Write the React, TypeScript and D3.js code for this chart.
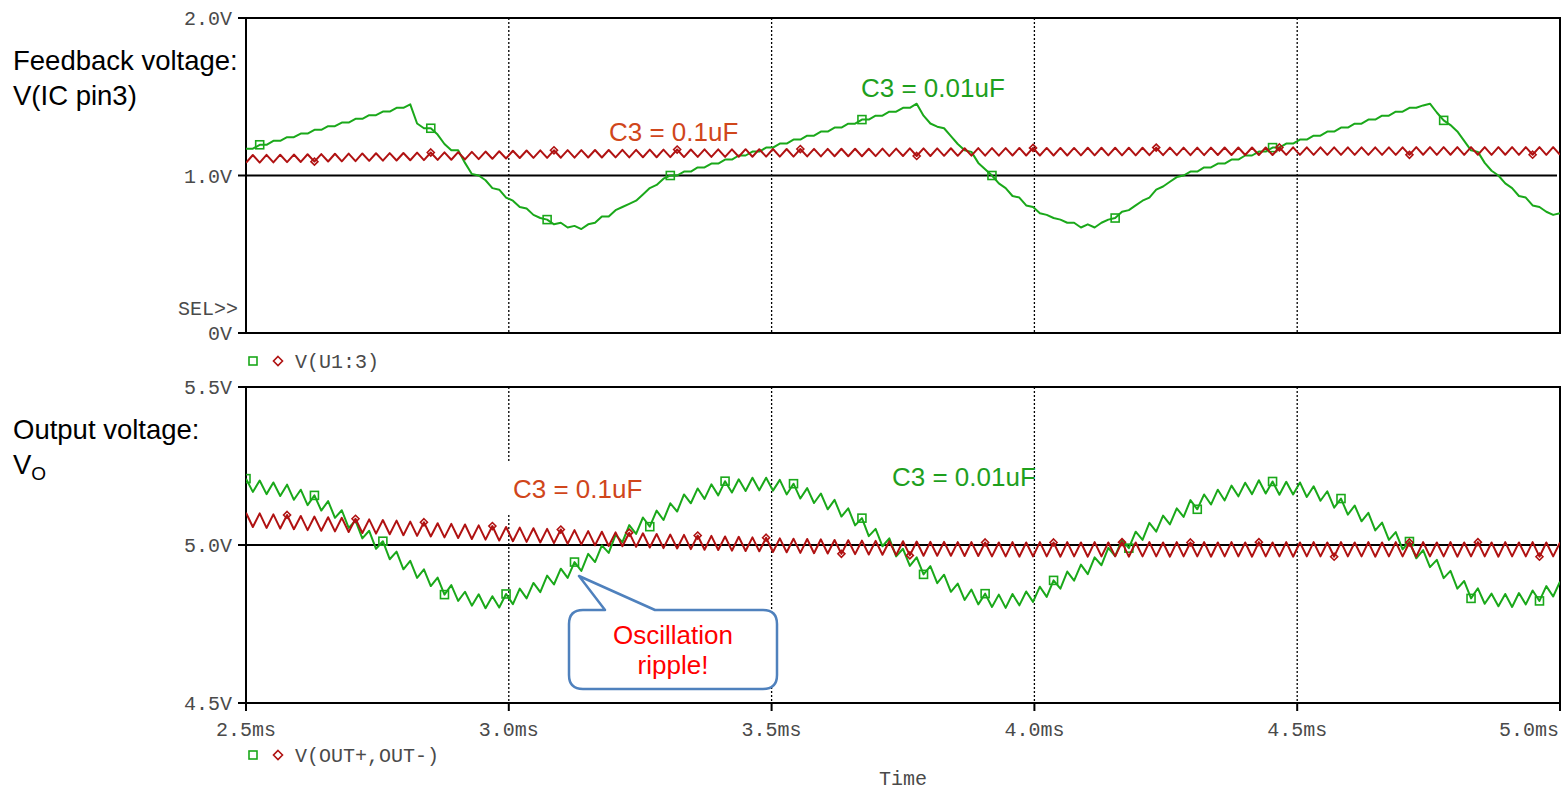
import React from "react";
import * as d3 from "d3";

// ---------- DATA ----------
const T_START = 2.5; // ms
const T_END = 5.0; // ms

const timeTicks = [2.5, 3.0, 3.5, 4.0, 4.5, 5.0];
const timeTickLabels = ["2.5ms", "3.0ms", "3.5ms", "4.0ms", "4.5ms", "5.0ms"];
const gridTimes = [3.0, 3.5, 4.0, 4.5];

const fbTicks = [0, 1.0, 2.0];
const fbTickLabels = ["0V", "1.0V", "2.0V"];
const outTicks = [4.5, 5.0, 5.5];
const outTickLabels = ["4.5V", "5.0V", "5.5V"];

// V(U1:3), C3 = 0.01uF (green), sampled every half switching period
const fbGreen = [
  1.170, 1.170, 1.195, 1.195, 1.220, 1.220, 1.243, 1.243, 1.266, 1.266,
  1.290, 1.290, 1.313, 1.313, 1.336, 1.336, 1.360, 1.360, 1.383, 1.383,
  1.406, 1.406, 1.430, 1.430, 1.452, 1.330, 1.300, 1.300, 1.260, 1.200,
  1.160, 1.160, 1.080, 1.010, 1.000, 0.970, 0.920, 0.910, 0.860, 0.840,
  0.800, 0.790, 0.750, 0.730, 0.720, 0.690, 0.700, 0.670, 0.680, 0.660,
  0.690, 0.700, 0.740, 0.740, 0.780, 0.800, 0.820, 0.840, 0.880, 0.920,
  0.940, 0.980, 1.000, 1.000, 1.025, 1.025, 1.051, 1.051, 1.076, 1.076,
  1.101, 1.101, 1.127, 1.127, 1.152, 1.152, 1.177, 1.177, 1.203, 1.203,
  1.228, 1.228, 1.253, 1.253, 1.279, 1.279, 1.304, 1.304, 1.329, 1.329,
  1.355, 1.355, 1.380, 1.380, 1.405, 1.405, 1.430, 1.430, 1.456, 1.380,
  1.330, 1.310, 1.300, 1.250, 1.200, 1.160, 1.150, 1.080, 1.040, 1.000,
  0.950, 0.920, 0.870, 0.860, 0.810, 0.800, 0.760, 0.750, 0.730, 0.720,
  0.700, 0.700, 0.670, 0.690, 0.670, 0.700, 0.720, 0.730, 0.770, 0.780,
  0.810, 0.840, 0.860, 0.910, 0.930, 0.960, 0.990, 1.000, 1.025, 1.025,
  1.051, 1.051, 1.076, 1.076, 1.101, 1.101, 1.127, 1.127, 1.152, 1.152,
  1.177, 1.177, 1.203, 1.203, 1.228, 1.228, 1.253, 1.253, 1.279, 1.279,
  1.304, 1.304, 1.329, 1.329, 1.355, 1.355, 1.380, 1.380, 1.405, 1.405,
  1.430, 1.430, 1.445, 1.456, 1.400, 1.350, 1.320, 1.280, 1.220, 1.160,
  1.150, 1.080, 1.030, 1.000, 0.950, 0.920, 0.870, 0.860, 0.810, 0.800,
  0.770, 0.750, 0.760,
];

// V(U1:3), C3 = 0.1uF (red)
const fbRed = [
  1.081, 1.130, 1.082, 1.131, 1.083, 1.132, 1.085, 1.133, 1.086, 1.135,
  1.088, 1.136, 1.089, 1.138, 1.090, 1.139, 1.091, 1.140, 1.093, 1.141,
  1.094, 1.142, 1.095, 1.143, 1.097, 1.145, 1.098, 1.146, 1.099, 1.147,
  1.100, 1.148, 1.102, 1.150, 1.104, 1.152, 1.106, 1.154, 1.108, 1.157,
  1.111, 1.159, 1.112, 1.160, 1.112, 1.160, 1.113, 1.161, 1.113, 1.161,
  1.114, 1.162, 1.114, 1.162, 1.115, 1.163, 1.115, 1.163, 1.116, 1.164,
  1.116, 1.164, 1.117, 1.165, 1.117, 1.165, 1.118, 1.166, 1.118, 1.166,
  1.118, 1.166, 1.119, 1.167, 1.119, 1.167, 1.120, 1.168, 1.120, 1.168,
  1.120, 1.168, 1.121, 1.169, 1.121, 1.169, 1.122, 1.170, 1.122, 1.170,
  1.122, 1.170, 1.123, 1.171, 1.123, 1.171, 1.124, 1.172, 1.124, 1.172,
  1.124, 1.172, 1.125, 1.173, 1.125, 1.173, 1.126, 1.174, 1.126, 1.174,
  1.126, 1.174, 1.127, 1.175, 1.127, 1.175, 1.127, 1.175, 1.127, 1.175,
  1.127, 1.175, 1.128, 1.176, 1.128, 1.176, 1.128, 1.176, 1.128, 1.176,
  1.128, 1.176, 1.129, 1.177, 1.129, 1.177, 1.129, 1.177, 1.129, 1.177,
  1.129, 1.177, 1.130, 1.178, 1.130, 1.178, 1.130, 1.178, 1.130, 1.178,
  1.130, 1.178, 1.131, 1.179, 1.131, 1.179, 1.131, 1.179, 1.131, 1.179,
  1.131, 1.179, 1.131, 1.179, 1.131, 1.179, 1.131, 1.179, 1.131, 1.179,
  1.131, 1.180, 1.132, 1.180, 1.131, 1.180, 1.132, 1.180, 1.131, 1.180,
  1.132, 1.180, 1.131, 1.180, 1.132, 1.180, 1.131, 1.180, 1.132, 1.180,
  1.131, 1.180, 1.132,
];

// V(OUT+,OUT-), C3 = 0.01uF (green)
const outGreen = [
  5.210, 5.168, 5.204, 5.161, 5.198, 5.155, 5.191, 5.143, 5.175, 5.126,
  5.157, 5.109, 5.139, 5.086, 5.110, 5.054, 5.077, 5.021, 5.045, 4.988,
  5.012, 4.955, 4.979, 4.923, 4.950, 4.896, 4.923, 4.870, 4.897, 4.843,
  4.873, 4.823, 4.852, 4.808, 4.844, 4.800, 4.838, 4.802, 4.845, 4.813,
  4.862, 4.831, 4.880, 4.851, 4.903, 4.875, 4.925, 4.896, 4.946, 4.918,
  4.972, 4.946, 4.999, 4.975, 5.032, 5.009, 5.063, 5.035, 5.087, 5.058,
  5.109, 5.079, 5.132, 5.106, 5.160, 5.132, 5.179, 5.146, 5.192, 5.157,
  5.202, 5.166, 5.208, 5.171, 5.213, 5.173, 5.213, 5.172, 5.206, 5.160,
  5.194, 5.147, 5.180, 5.133, 5.163, 5.113, 5.143, 5.090, 5.116, 5.062,
  5.085, 5.028, 5.051, 4.996, 5.021, 4.964, 4.988, 4.934, 4.961, 4.907,
  4.933, 4.879, 4.906, 4.852, 4.878, 4.826, 4.859, 4.812, 4.846, 4.804,
  4.843, 4.801, 4.845, 4.809, 4.853, 4.820, 4.868, 4.836, 4.888, 4.862,
  4.916, 4.887, 4.938, 4.908, 4.961, 4.936, 4.991, 4.965, 5.017, 4.990,
  5.042, 5.016, 5.070, 5.042, 5.093, 5.065, 5.116, 5.089, 5.142, 5.113,
  5.160, 5.128, 5.175, 5.141, 5.188, 5.154, 5.197, 5.161, 5.205, 5.163,
  5.201, 5.159, 5.200, 5.160, 5.198, 5.152, 5.186, 5.140, 5.170, 5.118,
  5.147, 5.096, 5.125, 5.075, 5.102, 5.046, 5.071, 5.016, 5.041, 4.986,
  5.011, 4.958, 4.984, 4.930, 4.953, 4.895, 4.918, 4.862, 4.886, 4.831,
  4.863, 4.814, 4.846, 4.806, 4.845, 4.804, 4.848, 4.812, 4.856, 4.823,
  4.870, 4.837, 4.884,
];

// V(OUT+,OUT-), C3 = 0.1uF (red)
const outRed = [
  5.102, 5.057, 5.100, 5.054, 5.097, 5.052, 5.095, 5.050, 5.092, 5.047,
  5.090, 5.045, 5.088, 5.043, 5.086, 5.041, 5.083, 5.038, 5.081, 5.036,
  5.079, 5.034, 5.077, 5.031, 5.074, 5.029, 5.072, 5.027, 5.069, 5.024,
  5.067, 5.022, 5.065, 5.019, 5.062, 5.017, 5.060, 5.014, 5.057, 5.012,
  5.055, 5.010, 5.053, 5.008, 5.051, 5.006, 5.049, 5.004, 5.047, 5.002,
  5.044, 4.999, 5.042, 4.997, 5.040, 4.996, 5.039, 4.994, 5.037, 4.992,
  5.035, 4.990, 5.033, 4.989, 5.032, 4.987, 5.030, 4.985, 5.029, 4.984,
  5.027, 4.982, 5.026, 4.981, 5.024, 4.980, 5.023, 4.978, 5.021, 4.977,
  5.020, 4.975, 5.019, 4.974, 5.018, 4.973, 5.016, 4.972, 5.015, 4.971,
  5.014, 4.970, 5.013, 4.969, 5.012, 4.968, 5.012, 4.967, 5.011, 4.966,
  5.010, 4.966, 5.010, 4.966, 5.009, 4.965, 5.009, 4.965, 5.008, 4.964,
  5.008, 4.964, 5.009, 4.963, 5.008, 4.964, 5.009, 4.964, 5.008, 4.963,
  5.009, 4.964, 5.008, 4.963, 5.009, 4.964, 5.008, 4.964, 5.009, 4.963,
  5.008, 4.964, 5.009, 4.964, 5.008, 4.963, 5.009, 4.964, 5.008, 4.964,
  5.009, 4.963, 5.008, 4.964, 5.009, 4.964, 5.008, 4.963, 5.009, 4.964,
  5.008, 4.964, 5.009, 4.963, 5.008, 4.964, 5.009, 4.964, 5.008, 4.963,
  5.009, 4.964, 5.008, 4.964, 5.009, 4.963, 5.008, 4.964, 5.009, 4.964,
  5.008, 4.963, 5.009, 4.964, 5.008, 4.964, 5.009, 4.963, 5.008, 4.964,
  5.009, 4.964, 5.008, 4.963, 5.009, 4.964, 5.008, 4.964, 5.009, 4.963,
  5.008, 4.964, 5.008,
];

// sample indices where the simulator drew its trace markers
const fbGreenMarks = [2, 27, 44, 62, 90, 109, 127, 150, 175];
const fbRedMarks = [10, 27, 45, 63, 81, 98, 115, 133, 151, 170, 188];
const outGreenMarks = [0, 10, 20, 29, 38, 48, 59, 70, 80, 90, 99, 108, 118, 129, 139, 150, 160, 170, 179, 189];
const outRedMarks = [6, 16, 26, 36, 46, 56, 66, 76, 87, 97, 108, 118, 128, 138, 148, 159, 170, 180, 189];

// ---------- STYLE / LAYOUT ----------
const W = 1562;
const H = 791;
const PL = 246;
const PR = 1560;
const TOP_Y0 = 18;
const TOP_Y1 = 333;
const BOT_Y0 = 387;
const BOT_Y1 = 703;
const GREEN = "#1aa81a";
const RED = "#b01212";
const MONO = "'Liberation Mono', 'DejaVu Sans Mono', monospace";
const SANS = "'Liberation Sans', Arial, sans-serif";
const AXIS_TEXT = "#4a4a4a";

const x = d3.scaleLinear().domain([T_START, T_END]).range([PL, PR]);
const yTop = d3.scaleLinear().domain([0, 2]).range([TOP_Y1, TOP_Y0]);
const yBot = d3.scaleLinear().domain([4.5, 5.5]).range([BOT_Y1, BOT_Y0]);

function tOf(i: number, n: number) {
  return T_START + (i * (T_END - T_START)) / (n - 1);
}

function tracePath(vals: number[], y: d3.ScaleLinear<number, number>) {
  const gen = d3
    .line<number>()
    .x((_, i) => x(tOf(i, vals.length)))
    .y((v) => y(v));
  return gen(vals) || "";
}

function Square({ cx, cy, color }: { cx: number; cy: number; color: string }) {
  return (
    <rect x={cx - 4} y={cy - 4} width={8} height={8} fill="none" stroke={color} strokeWidth={1.6} />
  );
}
function Diamond({ cx, cy, color, r = 4.5 }: { cx: number; cy: number; color: string; r?: number }) {
  return (
    <path
      d={`M${cx},${cy - r} L${cx + r},${cy} L${cx},${cy + r} L${cx - r},${cy} Z`}
      fill="none"
      stroke={color}
      strokeWidth={1.6}
    />
  );
}

function Panel({
  y,
  ticks,
  labels,
  refLevel,
  y0,
  y1,
  xTicks,
}: {
  y: d3.ScaleLinear<number, number>;
  ticks: number[];
  labels: string[];
  refLevel: number;
  y0: number;
  y1: number;
  xTicks: boolean;
}) {
  return (
    <g>
      {gridTimes.map((t) => (
        <line
          key={"g" + t}
          x1={x(t)}
          x2={x(t)}
          y1={y0}
          y2={y1}
          stroke="#000"
          strokeWidth={1.3}
          strokeDasharray="2,2"
        />
      ))}
      <line x1={PL} x2={PR - 3} y1={y(refLevel)} y2={y(refLevel)} stroke="#000" strokeWidth={2} />
      <rect x={PL} y={y0} width={PR - PL} height={y1 - y0} fill="none" stroke="#000" strokeWidth={2} />
      {ticks.map((v, i) => (
        <g key={"t" + v}>
          <line x1={PL - 8} x2={PL} y1={y(v)} y2={y(v)} stroke="#000" strokeWidth={2} />
          <text
            x={232}
            y={y(v) + 7}
            textAnchor="end"
            fontFamily={MONO}
            fontSize={20}
            fill={AXIS_TEXT}
          >
            {labels[i]}
          </text>
        </g>
      ))}
      {xTicks &&
        timeTicks.map((t) => (
          <line key={"xt" + t} x1={x(t)} x2={x(t)} y1={y1} y2={y1 + 8} stroke="#000" strokeWidth={2} />
        ))}
    </g>
  );
}

export default function App() {
  return (
    <svg
      width={W}
      height={H}
      style={{ position: "absolute", left: 0, top: 0, background: "#fff" }}
      xmlns="http://www.w3.org/2000/svg"
    >
      <rect x={0} y={0} width={W} height={H} fill="#fff" />

      {/* top panel */}
      <Panel y={yTop} ticks={fbTicks} labels={fbTickLabels} refLevel={1.0} y0={TOP_Y0} y1={TOP_Y1} xTicks={false} />
      <defs>
        <clipPath id="clipTop">
          <rect x={PL} y={TOP_Y0} width={PR - PL} height={TOP_Y1 - TOP_Y0} />
        </clipPath>
        <clipPath id="clipBot">
          <rect x={PL} y={BOT_Y0} width={PR - PL} height={BOT_Y1 - BOT_Y0} />
        </clipPath>
      </defs>
      <g clipPath="url(#clipTop)">
        <path d={tracePath(fbGreen, yTop)} fill="none" stroke={GREEN} strokeWidth={2} strokeLinejoin="round" />
        {fbGreenMarks.map((i) => (
          <Square key={"fg" + i} cx={x(tOf(i, fbGreen.length))} cy={yTop(fbGreen[i])} color={GREEN} />
        ))}
        <path d={tracePath(fbRed, yTop)} fill="none" stroke={RED} strokeWidth={2} strokeLinejoin="round" />
        {fbRedMarks.map((i) => (
          <Diamond key={"fr" + i} cx={x(tOf(i, fbRed.length))} cy={yTop(fbRed[i])} color={RED} r={3.5} />
        ))}
      </g>
      <text x={238} y={315} textAnchor="end" fontFamily={MONO} fontSize={20} fill={AXIS_TEXT}>
        SEL&gt;&gt;
      </text>

      {/* legend 1 */}
      <Square cx={253} cy={361} color={GREEN} />
      <Diamond cx={278} cy={361} color={RED} />
      <text x={295} y={368} fontFamily={MONO} fontSize={20} fill={AXIS_TEXT}>
        V(U1:3)
      </text>

      {/* bottom panel */}
      <Panel y={yBot} ticks={outTicks} labels={outTickLabels} refLevel={5.0} y0={BOT_Y0} y1={BOT_Y1} xTicks={true} />
      <g clipPath="url(#clipBot)">
        <path d={tracePath(outGreen, yBot)} fill="none" stroke={GREEN} strokeWidth={2} strokeLinejoin="round" />
        {outGreenMarks.map((i) => (
          <Square key={"og" + i} cx={x(tOf(i, outGreen.length))} cy={yBot(outGreen[i])} color={GREEN} />
        ))}
        <path d={tracePath(outRed, yBot)} fill="none" stroke={RED} strokeWidth={2} strokeLinejoin="round" />
        {outRedMarks.map((i) => (
          <Diamond key={"or" + i} cx={x(tOf(i, outRed.length))} cy={yBot(outRed[i])} color={RED} r={3.5} />
        ))}
      </g>

      {/* x tick labels */}
      {timeTicks.map((t, i) => {
        const last = i === timeTicks.length - 1;
        return (
          <text
            key={"xl" + t}
            x={last ? x(t) - 1 : x(t)}
            y={736}
            textAnchor={last ? "end" : "middle"}
            fontFamily={MONO}
            fontSize={20}
            fill={AXIS_TEXT}
          >
            {timeTickLabels[i]}
          </text>
        );
      })}

      {/* legend 2 */}
      <Square cx={253} cy={755} color={GREEN} />
      <Diamond cx={278} cy={755} color={RED} />
      <text x={295} y={762} fontFamily={MONO} fontSize={20} fill={AXIS_TEXT}>
        V(OUT+,OUT-)
      </text>
      <text x={903} y={785} textAnchor="middle" fontFamily={MONO} fontSize={20} fill={AXIS_TEXT}>
        Time
      </text>

      {/* left labels */}
      <g fontFamily={SANS} fontSize={27.5} fill="#000">
        <text x={13} y={70}>Feedback voltage:</text>
        <text x={13} y={105}>V(IC pin3)</text>
        <text x={13} y={439}>Output voltage:</text>
        <text x={13} y={474}>
          V<tspan fontSize={19} dy={6}>O</tspan>
        </text>
      </g>

      {/* annotations */}
      <g fontFamily={SANS} fontSize={26}>
        <text x={609} y={141} fill="#d0461b">C3 = 0.1uF</text>
        <text x={861} y={97} fill="#1ea01e">C3 = 0.01uF</text>
        <rect x={505} y={462} width={146} height={51} fill="#fff" />
        <text x={513} y={498} fill="#d0461b">C3 = 0.1uF</text>
        <text x={892} y={486} fill="#1ea01e">C3 = 0.01uF</text>
      </g>

      {/* callout */}
      <path
        d="M583,610 L605,610 L579,576 L655,610 L763,610 Q777,610 777,624 L777,675 Q777,689 763,689 L583,689 Q569,689 569,675 L569,624 Q569,610 583,610 Z"
        fill="#fff"
        stroke="#4f81bd"
        strokeWidth={2.5}
        strokeLinejoin="round"
      />
      <g fontFamily={SANS} fontSize={26} fill="#ff0000" textAnchor="middle">
        <text x={673} y={644}>Oscillation</text>
        <text x={673} y={674}>ripple!</text>
      </g>
    </svg>
  );
}
